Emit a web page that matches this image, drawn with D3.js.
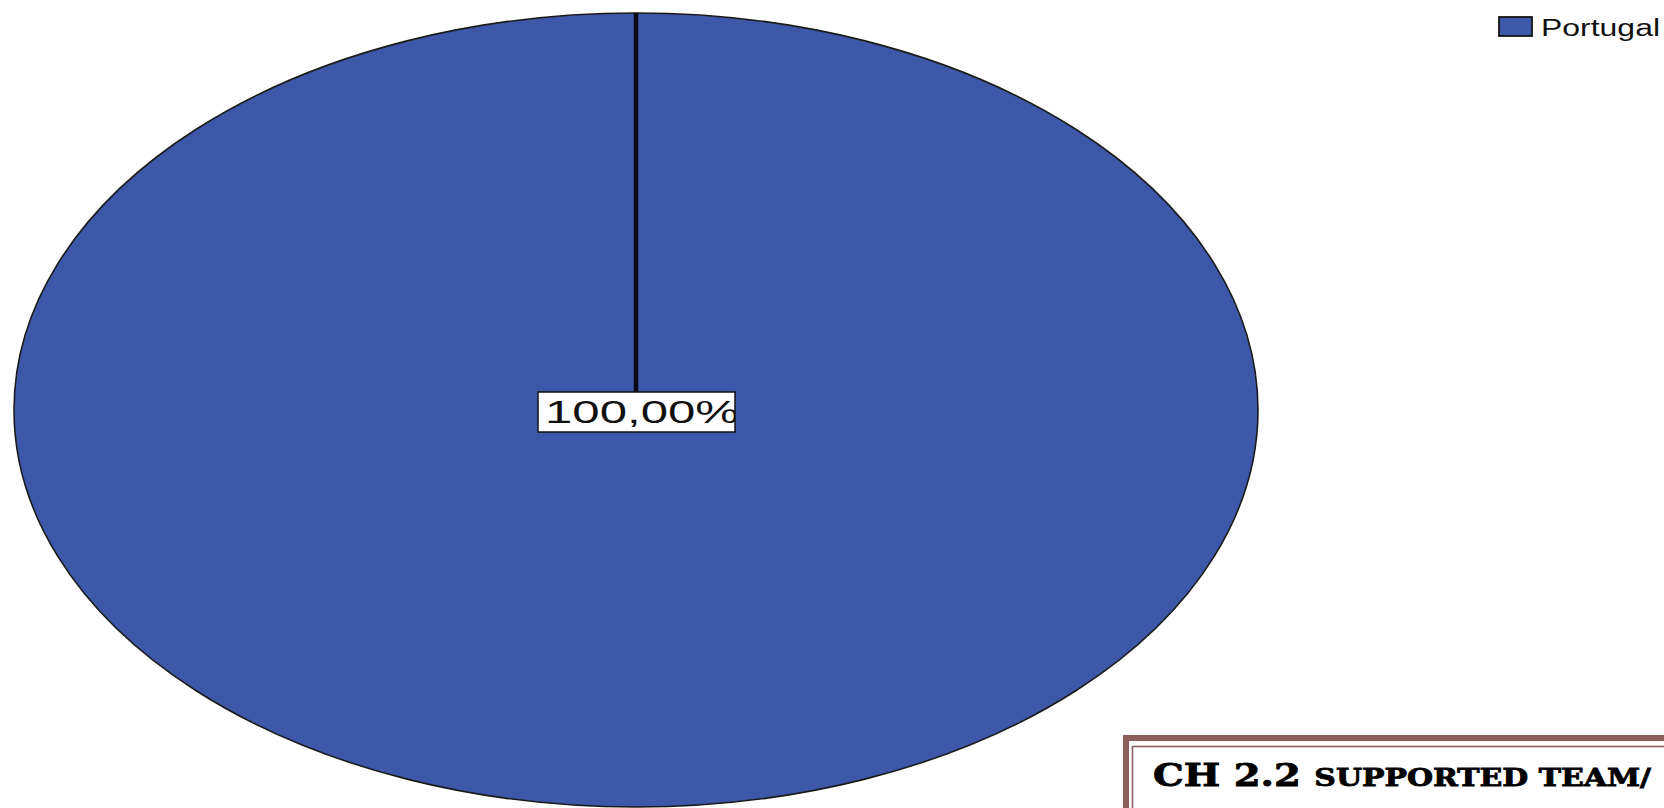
<!DOCTYPE html>
<html>
<head>
<meta charset="utf-8">
<script src="https://cdn.jsdelivr.net/npm/d3@7"></script>
<style>
  html, body { margin: 0; padding: 0; background: #ffffff; }
  svg { display: block; }
</style>
</head>
<body>
<svg id="chart" width="1664" height="808"></svg>
<script>
// ---- data ----
const categories = ["Portugal"];
const values = [100];
const valueLabels = ["100,00%"];
const titleMain = "CH 2.2";
const titleRest = "SUPPORTED TEAM/";

// ---- layout ----
const W = 1664, H = 808;
const cx = 636, cy = 410, rx = 622, ry = 397;
const color = d3.scaleOrdinal().domain(categories).range(["#3d58a8"]);

const svg = d3.select("#chart");

const pie = d3.pie().sort(null).value(d => d.value);
const arcs = pie(categories.map((c, i) => ({ cat: c, value: values[i] })));
const arc = d3.arc().innerRadius(0).outerRadius(rx);

const g = svg.append("g")
  .attr("transform", `translate(${cx},${cy}) scale(1,${ry / rx})`);

g.selectAll("path.slice")
  .data(arcs)
  .join("path")
  .attr("class", "slice")
  .attr("d", arc)
  .attr("fill", d => color(d.data.cat))
  .attr("stroke", "#1a1a1a")
  .attr("stroke-width", 1.6)
  .attr("vector-effect", "non-scaling-stroke");

// slice boundary line (start angle)
g.selectAll("line.edge")
  .data(arcs)
  .join("line")
  .attr("class", "edge")
  .attr("x1", 0).attr("y1", 0)
  .attr("x2", d => rx * Math.sin(d.startAngle))
  .attr("y2", d => -rx * Math.cos(d.startAngle))
  .attr("stroke", "#0a0a14")
  .attr("stroke-width", 4.5)
  .attr("vector-effect", "non-scaling-stroke");

// value label
const boxW = 197, boxH = 40;
const lbl = svg.append("g").attr("transform", `translate(${cx - boxW / 2 + 0.5},${cy - 18})`);
svg.append("defs").append("clipPath").attr("id", "lblclip")
  .append("rect").attr("x", 0).attr("y", 0).attr("width", boxW).attr("height", boxH);
lbl.append("rect")
  .attr("width", boxW).attr("height", boxH)
  .attr("fill", "#ffffff").attr("stroke", "#111").attr("stroke-width", 1.5);
lbl.append("g").attr("clip-path", "url(#lblclip)")
  .append("text")
  .attr("x", 7).attr("y", 31)
  .attr("font-family", "Liberation Sans, Arial, sans-serif")
  .attr("font-size", 32)
  .attr("fill", "#111")
  .attr("textLength", 194)
  .attr("lengthAdjust", "spacingAndGlyphs")
  .text(valueLabels[0]);

// legend
const legend = svg.append("g").attr("transform", "translate(1499,17)");
legend.selectAll("rect")
  .data(categories)
  .join("rect")
  .attr("x", 0).attr("y", (d, i) => i * 26)
  .attr("width", 33).attr("height", 19)
  .attr("fill", d => color(d))
  .attr("stroke", "#151515").attr("stroke-width", 1.8);
legend.selectAll("text")
  .data(categories)
  .join("text")
  .attr("x", 42).attr("y", (d, i) => i * 26 + 19)
  .attr("font-family", "Liberation Sans, Arial, sans-serif")
  .attr("font-size", 23)
  .attr("fill", "#111")
  .attr("textLength", 119)
  .attr("lengthAdjust", "spacingAndGlyphs")
  .text(d => d);

// title box (bottom right)
const tb = svg.append("g");
tb.append("rect")
  .attr("x", 1126).attr("y", 738).attr("width", 600).attr("height", 120)
  .attr("fill", "#ffffff").attr("stroke", "#8c5f5e").attr("stroke-width", 6);
tb.append("rect")
  .attr("x", 1132.5).attr("y", 746.5).attr("width", 600).attr("height", 120)
  .attr("fill", "none").attr("stroke", "#8c5f5e").attr("stroke-width", 1.6);
const tt = tb.append("text")
  .attr("x", 1153).attr("y", 786)
  .attr("font-family", "DejaVu Serif, serif")
  .attr("font-weight", "bold")
  .attr("fill", "#000")
  .attr("stroke", "#000").attr("stroke-width", 0.8)
  .attr("textLength", 498)
  .attr("lengthAdjust", "spacingAndGlyphs");
tt.append("tspan").attr("font-size", 31).text(titleMain + " ");
tt.append("tspan").attr("font-size", 24).text(titleRest);
</script>
</body>
</html>
